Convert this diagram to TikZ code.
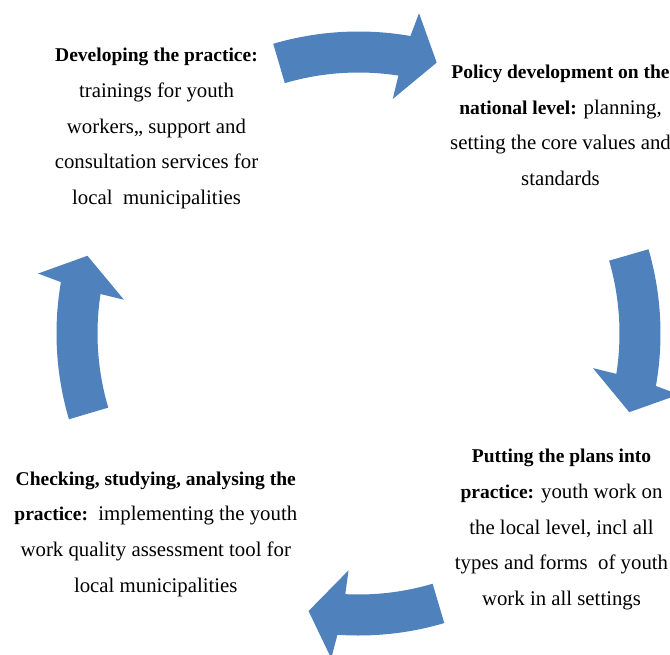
\documentclass[tikz,border=0pt]{standalone}
\usepackage{fontspec}
\setmainfont{Liberation Serif}
\definecolor{cycleblue}{HTML}{4F81BD}
\newcommand\hd[1]{{\fontsize{19.5}{35.7}\selectfont\bfseries #1}}
\newcommand\cyclearrow[2]{% #1 tail angle, #2 span to tip
  \fill[arrowfill] (#1:302) arc[start angle=#1, end angle={#1-#2+6.2}, radius=302]
    -- ({#1-#2+5.4}:326) -- ({#1-#2}:282) -- ({#1-#2+7.8}:237)
    -- ({#1-#2+7.3}:261) arc[start angle={#1-#2+7.3}, end angle=#1, radius=261] -- cycle;}
\begin{document}
\begin{tikzpicture}[x=1pt,y=1pt,
  arrowfill/.style={fill=cycleblue},
  block/.style={anchor=base, inner sep=0pt, text=black}]
\fill[white] (0,0) rectangle (670,-654);
\useasboundingbox (0,0) rectangle (670,-654);
\begin{scope}[shift={(358.5,-333.5)}]
  \cyclearrow{106.4}{32.5}
  \cyclearrow{16.2}{32.4}
  \cyclearrow{-73.5}{26.7}
  \cyclearrow{196.5}{32.5}
\end{scope}
\node[block] (develop) at (156.5,-61.7) {\parbox[t]{330pt}{\centering\fontsize{20.8}{35.7}\selectfont
  \hd{Developing the practice:}\\
  trainings for youth\\
  workers,, support and\\
  consultation services for\\
  local\ \ municipalities}};
\node[block] (policy) at (560.5,-78.3) {\parbox[t]{330pt}{\centering\fontsize{20.8}{35.7}\selectfont
  \hd{Policy development on the}\\
  \hd{national level:} planning,\\
  setting the core values and\\
  standards}};
\node[block] (putting) at (561.5,-462.7) {\parbox[t]{330pt}{\centering\fontsize{20.8}{35.7}\selectfont
  \hd{Putting the plans into}\\
  \hd{practice:} youth work on\\
  the local level, incl all\\
  types and forms\ \ of youth\\
  work in all settings}};
\node[block] (checking) at (155.8,-485) {\parbox[t]{330pt}{\centering\fontsize{20.8}{35.7}\selectfont
  \hd{Checking, studying, analysing the}\\
  \hd{practice:}\ \ implementing the youth\\
  work quality assessment tool for\\
  local municipalities}};
\end{tikzpicture}
\end{document}
